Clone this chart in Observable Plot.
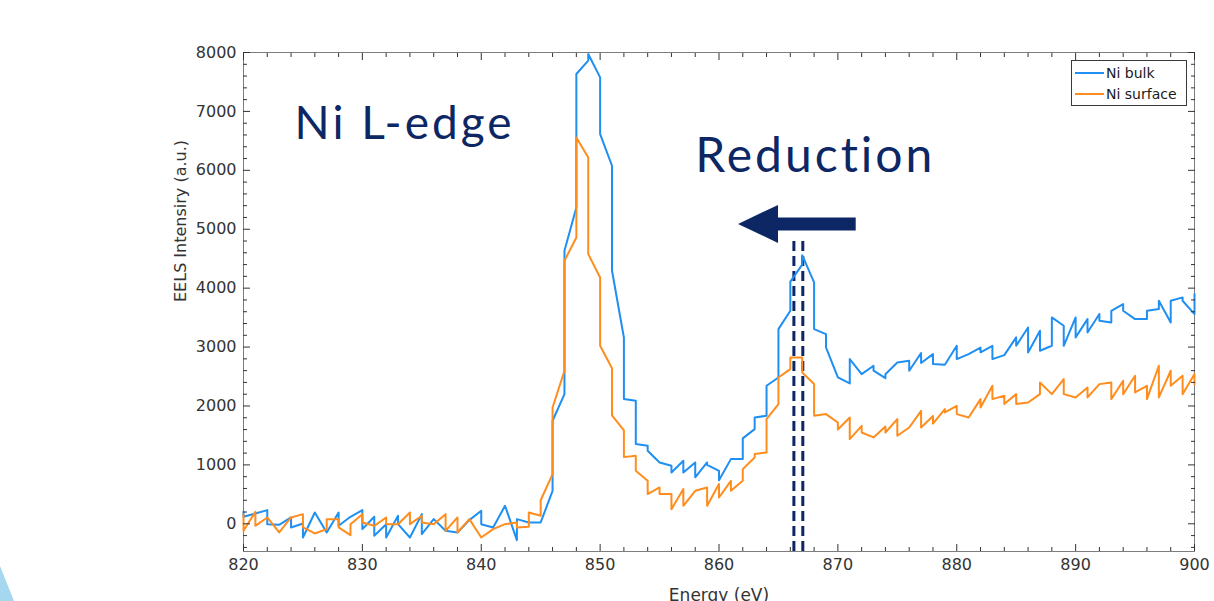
<!DOCTYPE html>
<html><head><meta charset="utf-8">
<script src="https://cdn.jsdelivr.net/npm/d3@7"></script>
<script src="https://cdn.jsdelivr.net/npm/@observablehq/plot@0.6"></script>
<style>
body{margin:0;background:#fff;}
#wrap{position:relative;width:1214px;height:601px;overflow:hidden;background:#fff;}
#legend{position:absolute;left:1071px;top:60px;width:114px;height:44px;border:1px solid #3a3a3a;background:#fff;font-family:"DejaVu Sans",sans-serif;font-size:14px;color:#1a1a1a;}
#legend .row{position:absolute;left:0;height:20px;display:flex;align-items:center;}
#legend .sw{display:inline-block;width:29px;height:2px;margin-left:3px;margin-right:2px;}
#deco{position:absolute;left:0;top:566px;width:14px;height:35px;background:#a5d7ee;clip-path:polygon(0 0,100% 100%,0 100%);}
</style></head><body><div id="wrap"><div id="deco"></div></div>
<script>
const energy = [820,821,822,823,824,825,826,827,828,829,830,831,832,833,834,835,836,837,838,839,840,841,842,843,844,845,846,847,848,849,850,851,852,853,854,855,856,857,858,859,860,861,862,863,864,865,866,867,868,869,870,871,872,873,874,875,876,877,878,879,880,881,882,883,884,885,886,887,888,889,890,891,892,893,894,895,896,897,898,899,900];
// value where the trace arrives at each energy, and where it leaves
const bulkIn  = [209,175,232,-17,108,6,192,-147,192,119,232,119,-6,136,-232,164,79,-119,-147,62,221,-62,306,-277,23,23,560,2202,5370,7861,7578,6078,3163,2088,1325,1041,986,1070,1041,1041,900,1098,1100,1607,1834,2484,3616,4400,4097,3220,2484,2382,2541,2683,2472,2739,2767,2900,2880,2700,3022,2880,2990,3022,2864,3164,3333,3277,3022,3362,3503,3475,3560,3418,3729,3475,3475,3645,3418,3843,3560];
const bulkOut = [119,175,-6,-17,-62,-232,192,-147,-34,119,-90,-204,-232,-6,-232,-175,79,-119,-147,62,-6,-62,306,79,23,23,1749,4635,7635,7975,6616,4295,2117,1353,1240,1041,870,870,790,1000,740,1098,1450,1805,2343,3305,4110,4560,3305,2994,2484,2796,2541,2600,2540,2739,2598,2730,2711,2700,2796,2880,2910,2796,2864,3022,2909,2937,3503,3022,3164,3248,3446,3616,3616,3475,3616,3786,3786,3786,3899];
const surfIn  = [164,204,108,-147,108,164,-164,-90,79,-192,164,-34,108,-6,192,136,-6,164,108,79,-232,-90,-6,23,-51,136,843,2597,4861,6219,4182,2640,1584,1155,730,617,504,589,560,617,674,730,730,1126,1211,2032,2626,2824,2372,1862,1720,1805,1663,1466,1650,1777,1635,1918,1830,1947,2003,1805,2117,2343,2173,2201,2060,2201,2201,2456,2145,2314,2371,2399,2427,2513,2343,2683,2598,2513,2541];
const surfOut = [-119,-34,108,-147,108,-62,-164,79,-62,-6,23,-34,-6,-6,-6,23,-6,-119,-147,79,-232,-90,-6,-62,192,400,1975,4465,6559,4578,3022,1839,1132,900,504,504,249,306,560,306,447,560,928,1183,1777,2484,2824,2569,1834,1862,1600,1437,1550,1466,1550,1494,1635,1635,1700,1890,1862,1805,1975,2117,2032,2032,2060,2399,2201,2201,2145,2145,2371,2117,2201,2229,2117,2145,2343,2201,2371];
const seriesNames = ["Ni bulk", "Ni surface"];
const seriesColors = ["#1f8ff2", "#ff8d1e"];
const xTicks = [820,830,840,850,860,870,880,890,900];
const xMinor = [822,824,826,828,832,834,836,838,842,844,846,848,852,854,856,858,862,864,866,868,872,874,876,878,882,884,886,888,892,894,896,898];
const yTicks = [0,1000,2000,3000,4000,5000,6000,7000,8000];
const yMinor = [-400,-200,200,400,600,800,1200,1400,1600,1800,2200,2400,2600,2800,3200,3400,3600,3800,4200,4400,4600,4800,5200,5400,5600,5800,6200,6400,6600,6800,7200,7400,7600,7800];
const xLabel = "Energy (eV)";
const yLabel = "EELS Intensiry (a.u.)";
const annotations = [
  {E: 824.3, I: 6531, text: "Ni L-edge", size: 46},
  {E: 858.0, I: 5964, text: "Reduction", size: 48}
];
const arrowShaft = [{x1: 864.4, x2: 871.5, y: 5090}];
const arrowHead = [{E: 861.6, I: 5090}];
const dashLines = [{E: 866.3, bottom: -470, top: 4870}, {E: 867.05, bottom: -470, top: 4870}];
const navy = "#0d2764";

function trace(inV, outV){
  const pts = [];
  energy.forEach((e,i)=>{ pts.push({E:e, I:inV[i]}); pts.push({E:e, I:outV[i]}); });
  return pts;
}
const bulk = trace(bulkIn, bulkOut);
const surf = trace(surfIn, surfOut);

const headSymbol = {draw(ctx){ ctx.moveTo(0,0); ctx.lineTo(40,-19); ctx.lineTo(40,19); ctx.closePath(); }};
const blank = () => "";
const tickCol = "#333";

const chart = Plot.plot({
  width: 1214, height: 601,
  marginLeft: 243, marginRight: 20, marginTop: 52, marginBottom: 50,
  style: {fontFamily: "DejaVu Sans, sans-serif", fontSize: "16px", color: "#333", background: "transparent"},
  x: {domain: [820, 900]},
  y: {domain: [-470, 8000]},
  marks: [
    Plot.frame({stroke: "#7d7d7d"}),
    Plot.ruleX(dashLines, {x: "E", y1: "bottom", y2: "top", stroke: navy, strokeWidth: 3, strokeDasharray: "10,5"}),
    Plot.line(bulk, {x: "E", y: "I", stroke: seriesColors[0], strokeWidth: 2}),
    Plot.line(surf, {x: "E", y: "I", stroke: seriesColors[1], strokeWidth: 2}),
    Plot.axisY({anchor: "left", ticks: yTicks, tickSize: 0, tickPadding: 7, tickFormat: d => String(d), label: null, fill: "#333"}),
    Plot.axisY({anchor: "left", ticks: yTicks, tickSize: -7, tickFormat: blank, label: null, stroke: tickCol}),
    Plot.axisY({anchor: "left", ticks: yMinor, tickSize: -4, tickFormat: blank, label: null, stroke: tickCol}),
    Plot.axisY({anchor: "right", ticks: yTicks, tickSize: -7, tickFormat: blank, label: null, stroke: tickCol}),
    Plot.axisY({anchor: "right", ticks: yMinor, tickSize: -4, tickFormat: blank, label: null, stroke: tickCol}),
    Plot.axisX({anchor: "bottom", ticks: xTicks, tickSize: 0, tickPadding: 7, tickFormat: d => String(d), label: null, fill: "#333"}),
    Plot.axisX({anchor: "bottom", ticks: xTicks, tickSize: -7, tickFormat: blank, label: null, stroke: tickCol}),
    Plot.axisX({anchor: "bottom", ticks: xMinor, tickSize: -4, tickFormat: blank, label: null, stroke: tickCol}),
    Plot.axisX({anchor: "top", ticks: xTicks, tickSize: -7, tickFormat: blank, label: null, stroke: tickCol}),
    Plot.axisX({anchor: "top", ticks: xMinor, tickSize: -4, tickFormat: blank, label: null, stroke: tickCol}),
    Plot.text([yLabel], {text: d => d, frameAnchor: "left", rotate: -90, dx: -63, fontSize: 16, fill: "#333"}),
    Plot.text([xLabel], {text: d => d, frameAnchor: "bottom", lineAnchor: "top", dy: 37, fontSize: 17, fill: "#333"}),
    Plot.text(annotations, {x: "E", y: "I", text: "text", fontSize: d => d.size, textAnchor: "start", lineAnchor: "bottom", fill: navy, fontFamily: "Lato, sans-serif", fontWeight: 400}),
    Plot.link(arrowShaft, {x1: "x1", x2: "x2", y1: "y", y2: "y", stroke: navy, strokeWidth: 13}),
    Plot.dot(arrowHead, {x: "E", y: "I", symbol: headSymbol, r: 10, fill: navy, stroke: "none"})
  ]
});
document.getElementById("wrap").appendChild(chart);
chart.style.position = "absolute"; chart.style.left = "0"; chart.style.top = "0";
chart.querySelectorAll('[font-family^="Lato"]').forEach(el => {
  el.style.letterSpacing = "3px";
  el.style.fontVariantLigatures = "none";
  el.style.fontFeatureSettings = '"liga" 0, "clig" 0';
});

const lg = document.createElement("div");
lg.id = "legend";
seriesNames.forEach((n,i)=>{
  const row = document.createElement("div");
  row.className = "row";
  row.style.top = (i === 0 ? 2 : 23) + "px";
  const sw = document.createElement("span");
  sw.className = "sw"; sw.style.background = seriesColors[i];
  row.appendChild(sw);
  row.appendChild(document.createTextNode(n));
  lg.appendChild(row);
});
document.getElementById("wrap").appendChild(lg);
</script></body></html>
